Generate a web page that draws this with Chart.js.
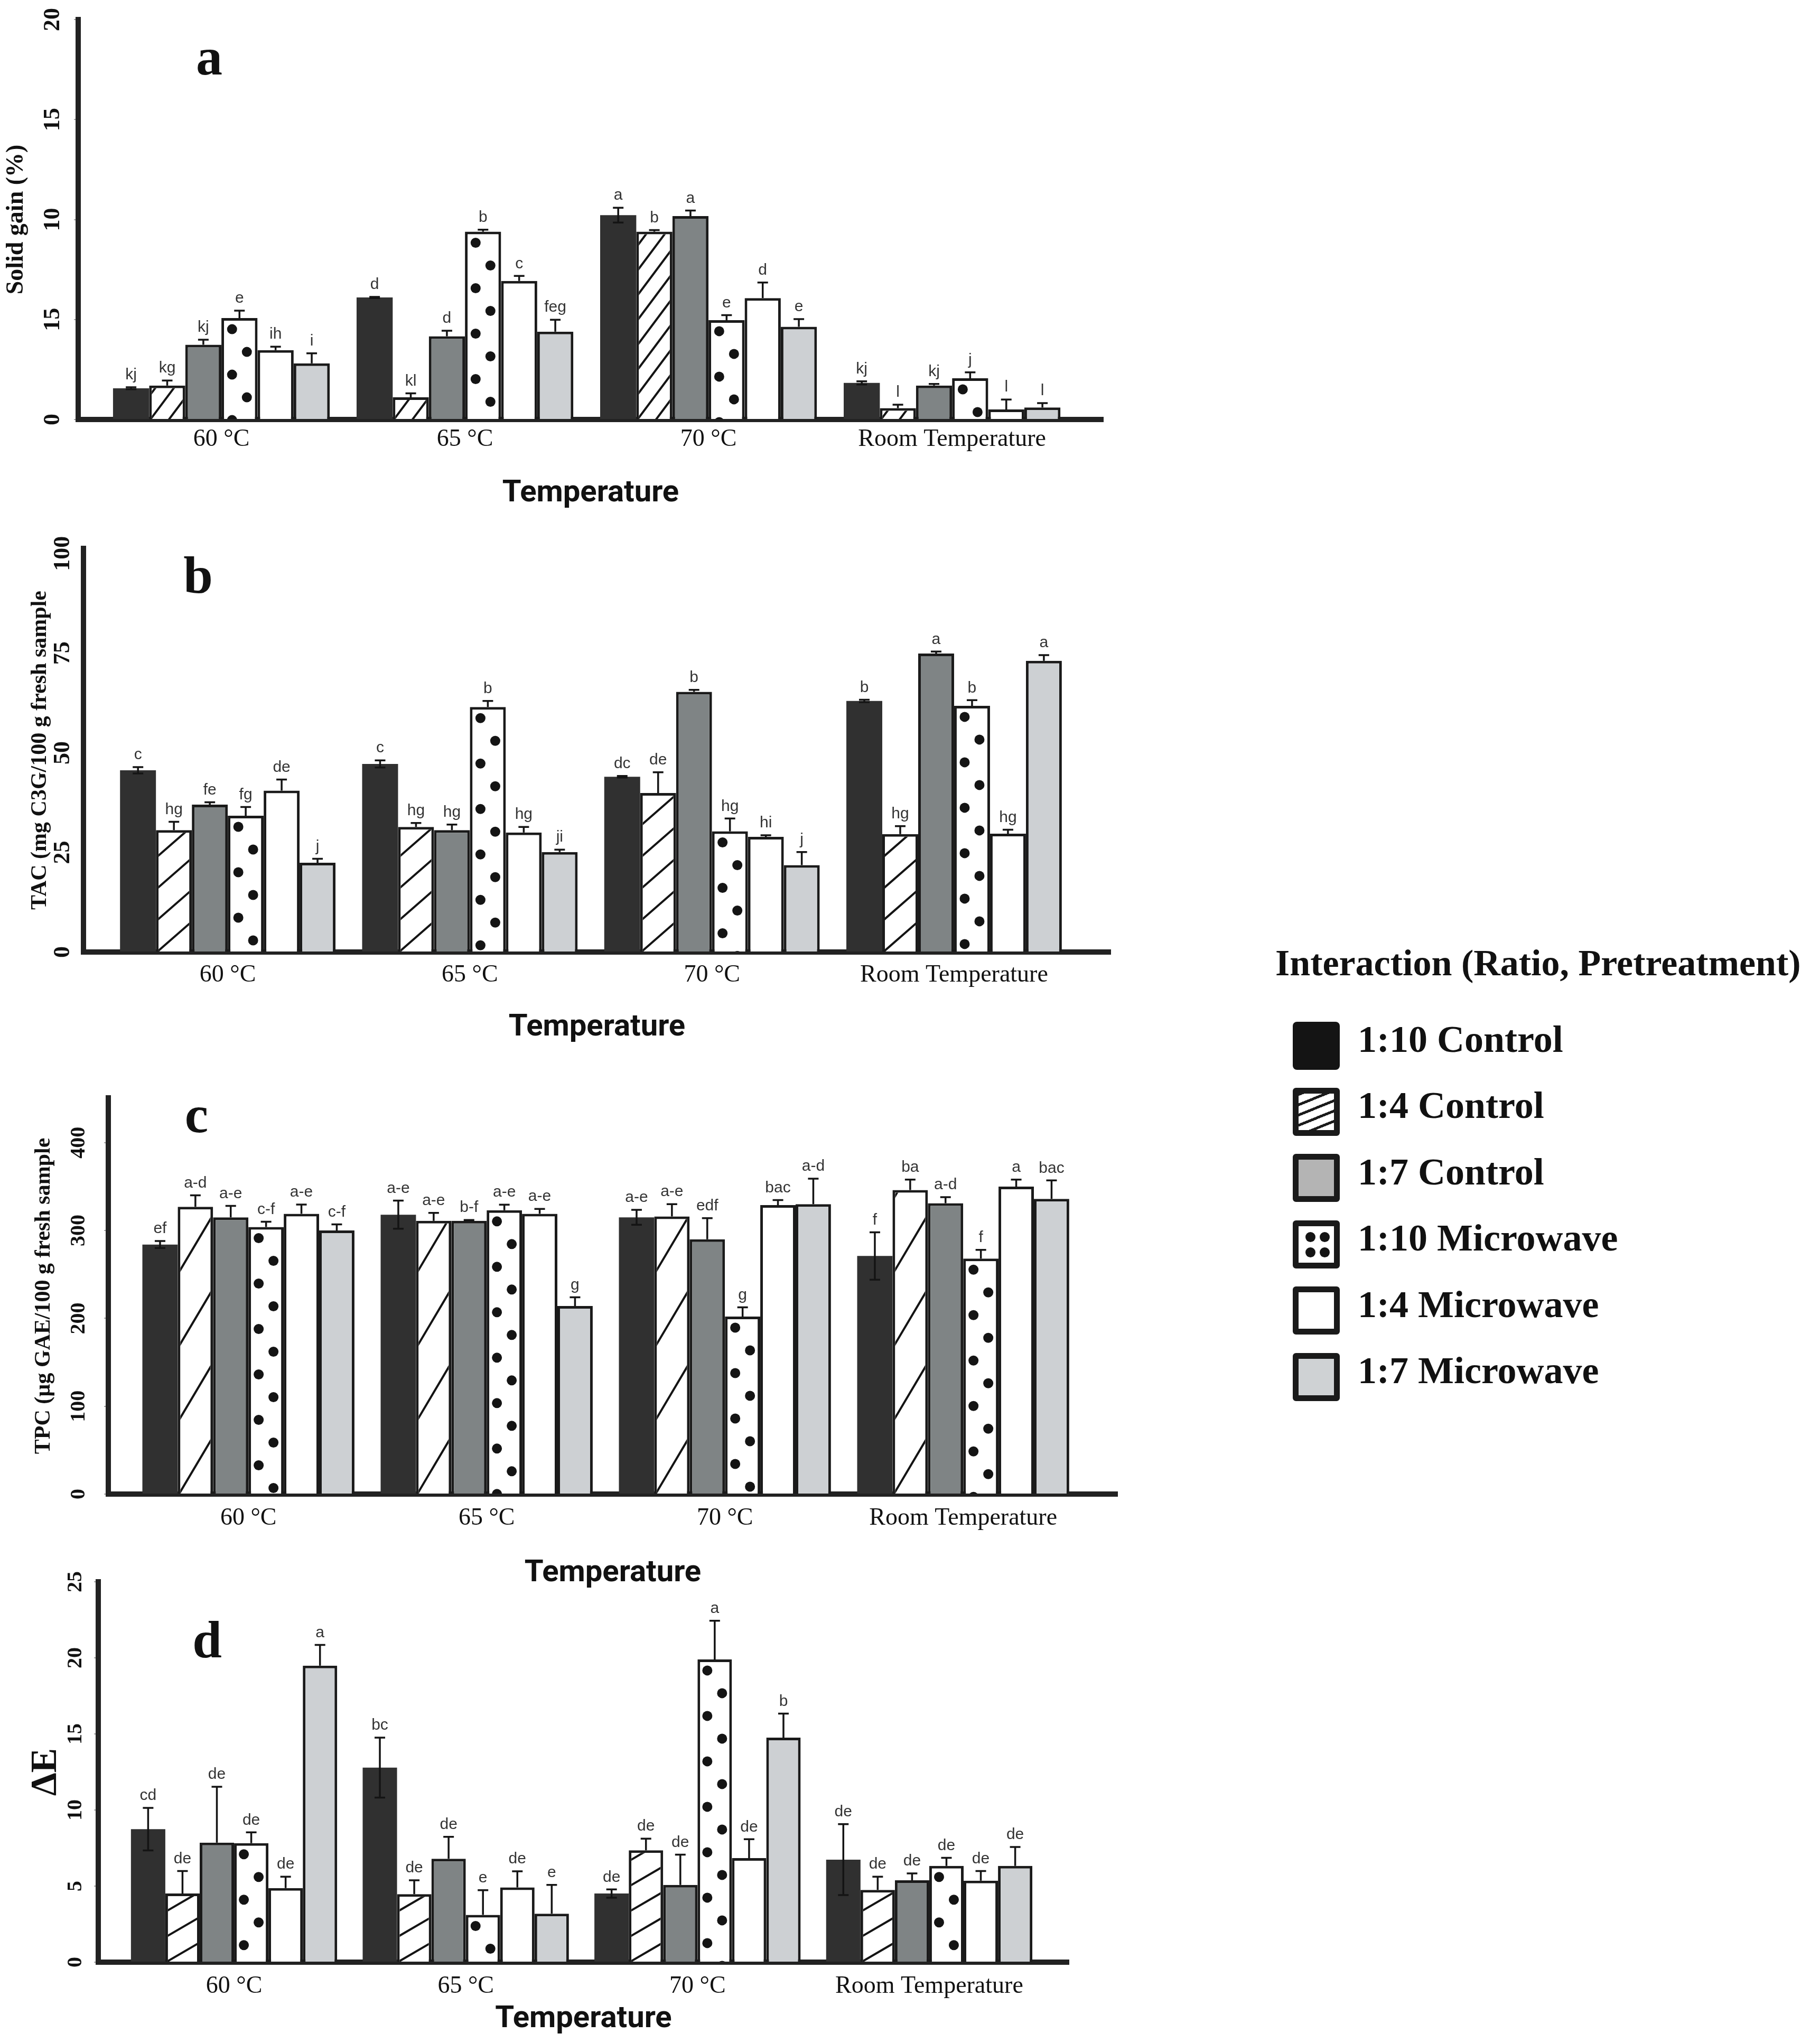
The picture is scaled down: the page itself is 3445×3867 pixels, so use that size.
<!DOCTYPE html>
<html>
<head>
<meta charset="utf-8">
<script src="https://cdn.jsdelivr.net/npm/chart.js@4.4.1/dist/chart.umd.min.js"></script>
<style>
  html, body { margin: 0; padding: 0; background: #fff; }
  #page { position: relative; width: 3445px; height: 3867px; overflow: hidden; background: #fff; }
  #page canvas { position: absolute; left: 0; }
  .lg { position: absolute; font-family: 'Liberation Serif', serif; font-weight: bold; color: #111; white-space: nowrap; }
  .patch { position: absolute; box-sizing: border-box; width: 89px; height: 91px; border: 11px solid #1a1a1a; border-radius: 6px; background: #fff; }
  .dot { position: absolute; width: 19px; height: 19px; border-radius: 50%; background: #141414; }
</style>
</head>
<body>
<div id="page"></div>
<script>
// categories and series
const categories = ['60 °C', '65 °C', '70 °C', 'Room Temperature'];
const seriesNames = ['1:10 Control', '1:4 Control', '1:7 Control', '1:10 Microwave', '1:4 Microwave', '1:7 Microwave'];

// (a) solid gain, one row per series, one column per temperature
const gainValues = [
    [1.56, 6.10, 10.22, 1.83],
    [1.70, 1.11, 9.39, 0.57],
    [3.74, 4.16, 10.17, 1.70],
    [5.07, 9.39, 4.97, 2.06],
    [3.47, 6.93, 6.07, 0.50],
    [2.81, 4.39, 4.64, 0.60]
];
const gainErrors = [
    [0.05, 0.03, 0.37, 0.08],
    [0.25, 0.20, 0.08, 0.17],
    [0.25, 0.28, 0.28, 0.08],
    [0.37, 0.10, 0.25, 0.30],
    [0.17, 0.25, 0.78, 0.50],
    [0.50, 0.60, 0.38, 0.22]
];
const gainLetters = [
    ['kj', 'd', 'a', 'kj'],
    ['kg', 'kl', 'b', 'l'],
    ['kj', 'd', 'a', 'kj'],
    ['e', 'b', 'e', 'j'],
    ['ih', 'c', 'd', 'l'],
    ['i', 'feg', 'e', 'l']
];
const gainTicks = [0, 5, 10, 15, 20];
const gainTickLabels = ['0', '15', '10', '15', '20'];

// (b) TAC
const tacValues = [
    [45.6, 47.2, 44.0, 63.0],
    [30.6, 31.4, 39.9, 29.6],
    [37.0, 30.6, 65.3, 74.9],
    [34.2, 61.5, 30.3, 61.8],
    [40.5, 30.0, 28.9, 29.7],
    [22.4, 25.1, 21.8, 73.1]
];
const tacErrors = [
    [0.8, 0.9, 0.2, 0.3],
    [2.1, 1.0, 5.2, 2.0],
    [0.6, 1.4, 0.5, 0.5],
    [2.2, 1.5, 3.2, 1.4],
    [2.8, 1.4, 0.4, 1.0],
    [1.0, 0.6, 3.3, 1.4]
];
const tacLetters = [
    ['c', 'c', 'dc', 'b'],
    ['hg', 'hg', 'de', 'hg'],
    ['fe', 'hg', 'b', 'a'],
    ['fg', 'b', 'hg', 'b'],
    ['de', 'hg', 'hi', 'hg'],
    ['j', 'ji', 'j', 'a']
];
const tacTicks = [0, 25, 50, 75, 100];
const tacTickLabels = ['0', '25', '50', '75', '100'];

// (c) TPC
const tpcValues = [
    [284, 318, 315, 271],
    [327, 311, 316, 346],
    [315, 311, 290, 331],
    [304, 323, 202, 268],
    [319, 319, 329, 350],
    [300, 214, 330, 336]
];
const tpcErrors = [
    [4, 16, 8.5, 27],
    [13, 9, 14, 12],
    [13, 1, 24, 7],
    [6, 6.4, 10.5, 10],
    [10.5, 5.6, 5.6, 8],
    [7, 10, 29, 21]
];
const tpcLetters = [
    ['ef', 'a-e', 'a-e', 'f'],
    ['a-d', 'a-e', 'a-e', 'ba'],
    ['a-e', 'b-f', 'edf', 'a-d'],
    ['c-f', 'a-e', 'g', 'f'],
    ['a-e', 'a-e', 'bac', 'a'],
    ['c-f', 'g', 'a-d', 'bac']
];
const tpcTicks = [0, 100, 200, 300, 400];
const tpcTickLabels = ['0', '100', '200', '300', '400'];

// (d) colour difference
const deltaValues = [
    [8.74, 12.79, 4.51, 6.74],
    [4.51, 4.47, 7.35, 4.75],
    [7.86, 6.80, 5.08, 5.38],
    [7.82, 3.11, 19.90, 6.33],
    [4.87, 4.91, 6.84, 5.36],
    [19.49, 3.19, 14.76, 6.33]
];
const deltaErrors = [
    [1.40, 1.97, 0.27, 2.33],
    [1.48, 0.91, 0.77, 0.87],
    [3.67, 1.44, 1.99, 0.45],
    [0.71, 1.62, 2.54, 0.53],
    [0.75, 1.06, 1.24, 0.63],
    [1.36, 1.89, 1.58, 1.24]
];
const deltaLetters = [
    ['cd', 'bc', 'de', 'de'],
    ['de', 'de', 'de', 'de'],
    ['de', 'de', 'de', 'de'],
    ['de', 'e', 'a', 'de'],
    ['de', 'de', 'de', 'de'],
    ['a', 'e', 'b', 'de']
];
const deltaTicks = [0, 5, 10, 15, 20, 25];
const deltaTickLabels = ['0', '5', '10', '15', '20', '25'];

// styles
const seriesFill = ['#303030', '#ffffff', '#7f8485', '#ffffff', '#ffffff', '#cdd0d3'];
const INK = '#141414';
const SERIF = "'Liberation Serif', 'Times New Roman', serif";
const CANVAS_W = 2200;

const panels = [
    { key: 'a', values: gainValues, errors: gainErrors, letters: gainLetters,
      ticks: gainTicks, tickLabels: gainTickLabels, yMax: 20, yTitle: 'Solid gain (%)',
      top: 0, height: 969, padTop: 37, axisLeft: 148, axisRight: 2088,
      xMin: -0.588, xMax: 3.620, xAxisH: 175, xTickPad: 10,
      yTitleSize: 46, yTitlePad: 4, yTickSize: 44, yTickPad: 17, tickLen: 8,
      mark: { x: 396, y: 141 }, hatch: { angle: 55, gap: 47 } },
    { key: 'b', values: tacValues, errors: tacErrors, letters: tacLetters,
      ticks: tacTicks, tickLabels: tacTickLabels, yMax: 101.3, yTitle: 'TAC (mg C3G/100 g fresh sample',
      top: 975, height: 1005, padTop: 63, axisLeft: 158, axisRight: 2102,
      xMin: -0.596, xMax: 3.646, xAxisH: 178, xTickPad: 16,
      yTitleSize: 42, yTitlePad: 51, yTickSize: 44, yTickPad: 0, tickLen: 5,
      mark: { x: 375, y: 147 }, hatch: { angle: 43, gap: 60 } },
    { key: 'c', values: tpcValues, errors: tpcErrors, letters: tpcLetters,
      ticks: tpcTicks, tickLabels: tpcTickLabels, yMax: 451, yTitle: 'TPC (µg GAE/100 g fresh sample',
      top: 1985, height: 1028, padTop: 93, axisLeft: 205, axisRight: 2115,
      xMin: -0.588, xMax: 3.647, xAxisH: 185, xTickPad: 18,
      yTitleSize: 42, yTitlePad: 58, yTickSize: 40, yTickPad: 17, tickLen: 8,
      mark: { x: 372, y: 158 }, hatch: { angle: 61, gap: 140 } },
    { key: 'd', values: deltaValues, errors: deltaErrors, letters: deltaLetters,
      ticks: deltaTicks, tickLabels: deltaTickLabels, yMax: 25, yTitle: 'ΔE',
      top: 2960, height: 897, padTop: 34, axisLeft: 186, axisRight: 2023,
      xMin: -0.586, xMax: 3.602, xAxisH: 143, xTickPad: 18,
      yTitleSize: 70, yTitlePad: 46, yTickSize: 40, yTickPad: 14, tickLen: 8,
      mark: { x: 392, y: 177 }, hatch: { angle: 32, gap: 48 } }
];

const dots = { r: 9.5, dx: 14, step: 43, start: 16 };

// hatching, dots, error bars, letters and the panel mark
function decorPlugin(p) {
    return {
        id: 'decor_' + p.key,
        afterDatasetsDraw(chart) {
            const ctx = chart.ctx;
            const yScale = chart.scales.y;

            chart.data.datasets.forEach((ds, s) => {
                if (s !== 1 && s !== 3) return;
                chart.getDatasetMeta(s).data.forEach(bar => {
                    const { x, y, base, width } = bar.getProps(['x', 'y', 'base', 'width'], true);
                    const inset = ds.borderWidth;
                    const l = x - width / 2 + inset, r = x + width / 2 - inset;
                    const t = y + inset, b = base;
                    if (b - t <= 0) return;
                    ctx.save();
                    ctx.beginPath();
                    ctx.rect(l, t, r - l, b - t);
                    ctx.clip();
                    ctx.strokeStyle = INK;
                    ctx.fillStyle = INK;
                    if (s === 1) {
                        const w = r - l;
                        const rise = w * Math.tan(p.hatch.angle * Math.PI / 180);
                        ctx.lineWidth = 4;
                        ctx.beginPath();
                        for (let y0 = b + Math.ceil(rise / p.hatch.gap) * p.hatch.gap; y0 > t; y0 -= p.hatch.gap) {
                            ctx.moveTo(l - 2, y0);
                            ctx.lineTo(r + 2, y0 - rise);
                        }
                        ctx.stroke();
                    } else {
                        for (let j = 0, yy = t + dots.start; yy < b + dots.r; j++, yy += dots.step) {
                            ctx.beginPath();
                            ctx.arc(x + (j % 2 ? dots.dx : -dots.dx), yy, dots.r, 0, Math.PI * 2);
                            ctx.fill();
                        }
                    }
                    ctx.restore();
                });
            });

            ctx.save();
            ctx.strokeStyle = INK;
            ctx.lineWidth = 3.5;
            ctx.font = "30px 'Liberation Sans', Arial, sans-serif";
            ctx.fillStyle = '#333';
            ctx.textAlign = 'center';
            ctx.textBaseline = 'bottom';
            chart.data.datasets.forEach((ds, s) => {
                chart.getDatasetMeta(s).data.forEach((bar, i) => {
                    const x = bar.x;
                    const v = p.values[s][i];
                    const e = p.errors[s][i];
                    const yv = yScale.getPixelForValue(v);
                    const yUp = yScale.getPixelForValue(v + e);
                    ctx.beginPath();
                    ctx.moveTo(x, yv);
                    ctx.lineTo(x, yUp);
                    ctx.moveTo(x - 10, yUp);
                    ctx.lineTo(x + 10, yUp);
                    if (s === 0) {
                        const yDn = yScale.getPixelForValue(v - e);
                        ctx.moveTo(x, yv);
                        ctx.lineTo(x, yDn);
                        ctx.moveTo(x - 10, yDn);
                        ctx.lineTo(x + 10, yDn);
                    }
                    ctx.stroke();
                    ctx.fillText(p.letters[s][i], x, yUp - 8);
                });
            });
            ctx.restore();
        },
        afterDraw(chart) {
            const ctx = chart.ctx;
            ctx.save();
            ctx.font = 'bold 100px ' + SERIF;
            ctx.fillStyle = '#111';
            ctx.textAlign = 'center';
            ctx.textBaseline = 'alphabetic';
            ctx.fillText(p.key, p.mark.x, p.mark.y);
            ctx.restore();
        }
    };
}

function buildPanel(p) {
    const canvas = document.createElement('canvas');
    canvas.width = CANVAS_W;
    canvas.height = p.height;
    canvas.style.top = p.top + 'px';
    canvas.style.width = CANVAS_W + 'px';
    canvas.style.height = p.height + 'px';
    document.getElementById('page').appendChild(canvas);

    const datasets = seriesNames.map((name, s) => ({
        label: name,
        data: p.values[s].map((v, i) => ({ x: i, y: v })),
        backgroundColor: seriesFill[s],
        borderColor: '#1a1a1a',
        borderWidth: s === 0 ? 0 : 5,
        categoryPercentage: 0.89,
        barPercentage: 1.0
    }));

    new Chart(canvas, {
        type: 'bar',
        data: { datasets },
        options: {
            responsive: false,
            animation: false,
            devicePixelRatio: 1,
            layout: { padding: { top: p.padTop, right: CANVAS_W - p.axisRight, bottom: 0, left: 0 } },
            plugins: { legend: { display: false }, tooltip: { enabled: false } },
            scales: {
                x: {
                    type: 'linear',
                    min: p.xMin,
                    max: p.xMax,
                    offset: false,
                    grid: { display: true, drawOnChartArea: false, drawTicks: false, offset: false },
                    border: { display: true, width: 10, color: '#222' },
                    afterBuildTicks: axis => { axis.ticks = categories.map((c, i) => ({ value: i })); },
                    afterFit: axis => { axis.height = p.xAxisH; axis.paddingLeft = 0; axis.paddingRight = 0; },
                    ticks: {
                        autoSkip: false,
                        maxRotation: 0,
                        padding: p.xTickPad,
                        color: '#111',
                        font: { family: SERIF, size: 46 },
                        callback: (v, i) => categories[i]
                    },
                    title: {
                        display: true,
                        text: 'Temperature',
                        color: '#111',
                        padding: 0,
                        font: { family: 'Roboto', size: 58, weight: 'bold' }
                    }
                },
                y: {
                    min: 0,
                    max: p.yMax,
                    grid: { display: true, drawOnChartArea: false, drawTicks: true, tickLength: p.tickLen, color: '#a0a0a0', lineWidth: 2 },
                    border: { display: true, width: 10, color: '#222' },
                    afterBuildTicks: axis => { axis.ticks = p.ticks.map(v => ({ value: v })); },
                    afterFit: axis => { axis.width = p.axisLeft; axis.paddingTop = 0; axis.paddingBottom = 0; },
                    ticks: {
                        minRotation: 90,
                        maxRotation: 90,
                        crossAlign: 'center',
                        padding: p.yTickPad,
                        color: '#111',
                        font: { family: SERIF, size: p.yTickSize, weight: 'bold' },
                        callback: (v, i) => p.tickLabels[i]
                    },
                    title: {
                        display: true,
                        text: p.yTitle,
                        color: '#111',
                        padding: { top: p.yTitlePad, bottom: 0 },
                        font: { family: SERIF, size: p.yTitleSize, weight: 'bold' }
                    }
                }
            }
        },
        plugins: [decorPlugin(p)]
    });
}

panels.forEach(buildPanel);

// legend
function buildLegend() {
    const page = document.getElementById('page');
    const title = document.createElement('div');
    title.className = 'lg';
    title.style.cssText = 'left:2414px;top:1788px;font-size:70px;line-height:70px;';
    title.textContent = 'Interaction (Ratio, Pretreatment)';
    page.appendChild(title);

    const patchStyles = [
        'border:none;background:#141414;border-radius:8px;',
        'background:repeating-linear-gradient(-22deg,#fff 0 13px,#1c1c1c 13px 18px);',
        'background:#b4b4b4;',
        '',
        '',
        'background:#cfd2d4;'
    ];
    seriesNames.forEach((name, s) => {
        const cy = 1979 + s * 125.4;
        const patch = document.createElement('div');
        patch.className = 'patch';
        patch.style.cssText += 'left:2447px;top:' + (cy - 45.5) + 'px;' + patchStyles[s];
        if (s === 3) {
            [[13, 11], [40, 11], [13, 40], [40, 40]].forEach(([dx, dy]) => {
                const d = document.createElement('div');
                d.className = 'dot';
                d.style.left = dx + 'px';
                d.style.top = dy + 'px';
                patch.appendChild(d);
            });
        }
        page.appendChild(patch);

        const label = document.createElement('div');
        label.className = 'lg';
        label.style.cssText = 'left:2570px;top:' + (cy + 12 - 60) + 'px;font-size:72px;line-height:72px;';
        label.textContent = name;
        page.appendChild(label);
    });
}
buildLegend();
</script>
</body>
</html>
